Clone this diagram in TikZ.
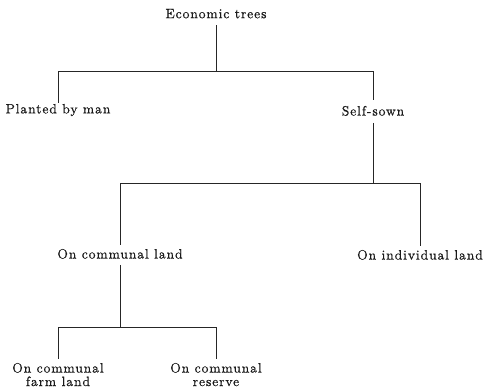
\documentclass[tikz,border=0pt]{standalone}
\usepackage{fontspec}
\setmainfont{lmroman10-regular.otf}[LetterSpace=7,FakeBold=0.6]
\begin{document}
\begin{tikzpicture}[x=1pt,y=-1pt,
  lbl/.style={anchor=north,inner sep=0pt,outer sep=0pt,align=center,
    font=\fontsize{13.5}{13.5}\selectfont,text=black!90},
  link/.style={line width=0.8pt,draw=black!85}]
\useasboundingbox (0,0) rectangle (488,388);
% nodes
\node[lbl] (root) at (216,9) {Economic trees};
\node[lbl] (planted) at (58,104) {Planted by man};
\node[lbl] (self) at (373,106) {Self-sown};
\node[lbl] (comm) at (120,249) {On communal land};
\node[lbl] (indiv) at (420,250) {On individual land};
\node[lbl] (farm) at (58,363) {On communal\\farm land};
\node[lbl] (res) at (216,363) {On communal\\reserve};
% junction levels
\coordinate (h1) at (0,71);
\coordinate (h2) at (0,183);
\coordinate (h3) at (0,327);
% level 1
\draw[link] ([yshift=-7pt]root.south) -- (root.south |- h1);
\draw[link] (planted.north |- h1) -- (self.north |- h1);
\draw[link] (planted.north |- h1) -- ([yshift=1pt]planted.north);
\draw[link] (self.north |- h1) -- ([yshift=6pt]self.north);
% level 2
\draw[link] ([yshift=-7pt]self.south) -- (self.south |- h2);
\draw[link] (comm.north |- h2) -- (indiv.north |- h2);
\draw[link] (comm.north |- h2) -- ([yshift=4pt]comm.north);
\draw[link] (indiv.north |- h2) -- ([yshift=4pt]indiv.north);
% level 3
\draw[link] ([yshift=-6pt]comm.south) -- (comm.south |- h3);
\draw[link] (farm.north |- h3) -- (res.north |- h3);
\draw[link] (farm.north |- h3) -- ([yshift=4pt]farm.north);
\draw[link] (res.north |- h3) -- ([yshift=4pt]res.north);
\end{tikzpicture}
\end{document}
